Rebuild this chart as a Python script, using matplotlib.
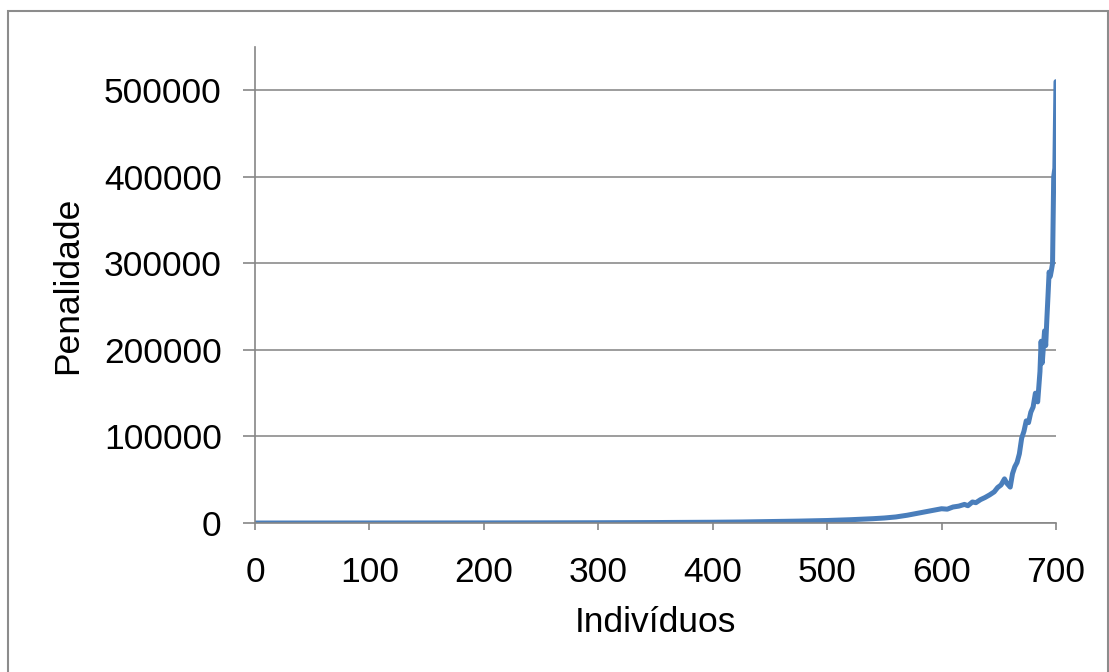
import matplotlib.pyplot as plt
from matplotlib.patches import Rectangle

# values (Individuos vs Penalidade)
individuos = [0, 50, 100, 150, 200, 250, 300, 350, 400, 425, 450, 475, 500, 520,
              540, 550, 560, 570, 580, 590, 600, 605, 610, 615, 620, 623, 627, 630,
              634, 638, 642, 646, 649, 652, 655, 657, 660, 662, 664, 666, 668, 670,
              672, 674, 676, 678, 680, 682, 684, 686, 687, 688, 690, 691, 692, 693,
              694, 695, 696, 697, 698, 699, 700]
penalidade = [0, 20, 50, 80, 120, 200, 330, 550, 900, 1200, 1700, 2200, 2900, 3800,
              5000, 5800, 7000, 9000, 11500, 14000, 16500, 16000, 18500, 19500, 21500,
              20000, 24300, 23500, 27000, 29500, 32500, 36000, 41000, 44000, 51000,
              46000, 41500, 57000, 65000, 70000, 80000, 98000, 106000, 118000, 116000,
              128000, 134000, 150000, 140000, 175000, 210000, 185000, 222000, 205000,
              235000, 262000, 290000, 285000, 292000, 300000, 400000, 410000, 510000]

y_ticks = [0, 100000, 200000, 300000, 400000, 500000]
x_ticks = [0, 100, 200, 300, 400, 500, 600, 700]

plt.rcParams['font.family'] = ['Liberation Sans', 'DejaVu Sans']

fig = plt.figure(figsize=(11.09, 6.72), dpi=100)
ax = fig.add_axes([0.2299, 0.2217, 0.7223, 0.7083])

ax.plot(individuos, penalidade, color='#4a7ebb', linewidth=3.6,
        solid_joinstyle='round', solid_capstyle='round')

ax.set_xlim(0, 700)
ax.set_ylim(0, 550000)
ax.set_xticks(x_ticks)
ax.set_yticks(y_ticks)
ax.tick_params(axis='both', labelsize=25.5, colors='#868686', labelcolor='black', width=1.2)
ax.tick_params(axis='y', length=9, pad=15)
ax.tick_params(axis='x', length=5, pad=19)
ax.grid(axis='y', color='#8c8c8c', linewidth=1.2)
ax.set_axisbelow(True)

for s in ['top', 'right']:
    ax.spines[s].set_visible(False)
for s in ['left', 'bottom']:
    ax.spines[s].set_color('#868686')
    ax.spines[s].set_linewidth(1.2)

ax.set_ylabel('Penalidade', fontsize=25.5, labelpad=14)
ax.set_xlabel('Indivíduos', fontsize=25.5, labelpad=12)

# outer chart frame
fig.patches.append(Rectangle((0.0072, -0.05), 0.9918, 1.0336, transform=fig.transFigure,
                             fill=False, edgecolor='#8c8c8c', linewidth=1.5))

fig.savefig('out.png', dpi=100)
